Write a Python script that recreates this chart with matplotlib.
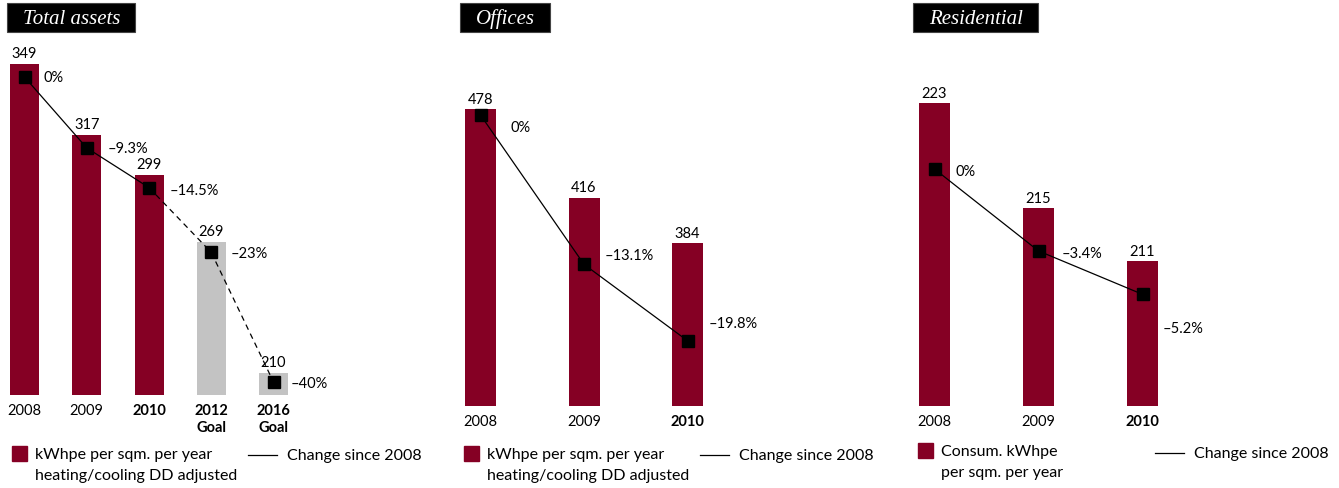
import matplotlib
matplotlib.use("Agg")
import matplotlib.pyplot as plt
from matplotlib.patches import Rectangle
from matplotlib.lines import Line2D

plt.rcParams["font.family"] = ["Lato", "DejaVu Sans"]

W, H = 1339, 489
BAR_RED = "#850024"
GOAL_GREY = "#c3c3c3"
FS = 10.5

# energy intensity, kWhpe per sqm. per year, and change since 2008 (%)
TOTAL_LABELS = ["2008", "2009", "2010", "2012\nGoal", "2016\nGoal"]
TOTAL_VALUES = [349, 317, 299, 269, 210]
TOTAL_CHANGE = [0, -9.3, -14.5, -23, -40]
TOTAL_GOAL = [False, False, False, True, True]

OFFICE_LABELS = ["2008", "2009", "2010"]
OFFICE_VALUES = [478, 416, 384]
OFFICE_CHANGE = [0, -13.1, -19.8]
OFFICE_GOAL = [False, False, False]

RESID_LABELS = ["2008", "2009", "2010"]
RESID_VALUES = [223, 215, 211]
RESID_CHANGE = [0, -3.4, -5.2]
RESID_GOAL = [False, False, False]

BAR_LEGEND = "kWhpe per sqm. per year\nheating/cooling DD adjusted"
RESID_BAR_LEGEND = "Consum. kWhpe\nper sqm. per year"
LINE_LEGEND = "Change since 2008"

# label offsets (px right, px down) for the percentage annotations
TOTAL_PCT_OFF = [(19, 0), (21, 0), (21, 2), (19, 1), (17, 1)]
OFFICE_PCT_OFF = [(30, 12), (21, -9), (21, -18)]
RESID_PCT_OFF = [(21, 2), (23, 2), (20, 34)]


def fx(px):
    return px / W


def fy(py):
    return 1 - py / H


def pct(c):
    s = f"{abs(c):g}%"
    return "\u2013" + s if c < 0 else s


def draw_panel(fig, title, title_left, labels, values, change, goal, pct_off,
               first_center, spacing, bar_px, bottom_px, base, px_per_unit,
               zero_px, px_per_pct, legend_x, legend_y, legend_text, line_x, line_y):
    n = len(values)
    top_px = 40
    x = list(range(n))
    ax = fig.add_axes([fx(first_center - spacing / 2), fy(bottom_px),
                       n * spacing / W, (bottom_px - top_px) / H])
    ax.set_xlim(-0.5, n - 0.5)
    ax.set_ylim(base, base + (bottom_px - top_px) / px_per_unit)
    colors = [GOAL_GREY if g else BAR_RED for g in goal]
    ax.bar(x, values, width=bar_px / spacing, color=colors)
    for i, v in enumerate(values):
        ax.annotate(f"{v}", (i, v), xytext=(0, 2.5), textcoords="offset points",
                    ha="center", va="bottom", fontsize=FS)
    ax.set_xticks(x, labels)
    ax.tick_params(axis="x", length=0, pad=6, labelsize=FS)
    for i, lab in enumerate(ax.get_xticklabels()):
        if i >= 2:
            lab.set_fontweight("bold")
    ax.set_yticks([])
    for s in ax.spines.values():
        s.set_visible(False)

    ax2 = ax.twinx()
    ax2.set_ylim((zero_px - bottom_px) / px_per_pct, (zero_px - top_px) / px_per_pct)
    ax2.set_yticks([])
    for s in ax2.spines.values():
        s.set_visible(False)
    last = max(i for i, g in enumerate(goal) if not g)
    ax2.plot(x[:last + 1], change[:last + 1], color="black", lw=0.9)
    if last < n - 1:
        ax2.plot(x[last:], change[last:], color="black", lw=0.9, ls=(0, (4.5, 3.5)))
    ax2.plot(x, change, ls="none", marker="s", ms=8.5, color="black")
    for i, c in enumerate(change):
        dx, dy = pct_off[i]
        ax2.annotate(pct(c), (i, c), xytext=(dx * 0.72, -dy * 0.72),
                     textcoords="offset points", ha="left", va="center", fontsize=FS)

    # title in a black box
    t = fig.text(fx(title_left + 16), fy(19), title, color="white", fontsize=15,
                 style="italic", family=["Liberation Serif"], va="center", ha="left",
                 zorder=5)
    fig.canvas.draw()
    bb = t.get_window_extent()
    fig.patches.append(Rectangle((fx(title_left), fy(33)), (bb.x1 + 15 - title_left) / W,
                                 29 / H, transform=fig.transFigure, facecolor="black",
                                 edgecolor="#444444", lw=0.8, zorder=1))

    # legend
    fig.patches.append(Rectangle((fx(legend_x), fy(legend_y + 15)), 15 / W, 15 / H,
                                 transform=fig.transFigure, color=BAR_RED))
    fig.text(fx(legend_x + 23), fy(legend_y + 1), legend_text, va="top", ha="left",
             fontsize=11.5, linespacing=1.65)
    fig.add_artist(Line2D([fx(line_x), fx(line_x + 29)], [fy(line_y), fy(line_y)],
                          color="black", lw=0.9))
    fig.text(fx(line_x + 39), fy(line_y), LINE_LEGEND, va="center", ha="left", fontsize=11.5)


fig = plt.figure(figsize=(W / 100, H / 100), dpi=100)

draw_panel(fig, "Total assets", 7, TOTAL_LABELS, TOTAL_VALUES, TOTAL_CHANGE, TOTAL_GOAL,
           TOTAL_PCT_OFF, 24.5, 62.25, 29, 396, 200, 2.223, 78, 7.625,
           12, 447, BAR_LEGEND, 248, 456)
draw_panel(fig, "Offices", 460, OFFICE_LABELS, OFFICE_VALUES, OFFICE_CHANGE, OFFICE_GOAL,
           OFFICE_PCT_OFF, 480.5, 103.5, 31, 407, 270, 1.4255, 116, 11.4,
           464, 447, BAR_LEGEND, 700, 456)
draw_panel(fig, "Residential", 913, RESID_LABELS, RESID_VALUES, RESID_CHANGE, RESID_GOAL,
           RESID_PCT_OFF, 934.5, 104, 31, 407, 200, 13.17, 170, 24.1,
           918, 444, RESID_BAR_LEGEND, 1155, 454)

fig.savefig("out.png", dpi=100)
